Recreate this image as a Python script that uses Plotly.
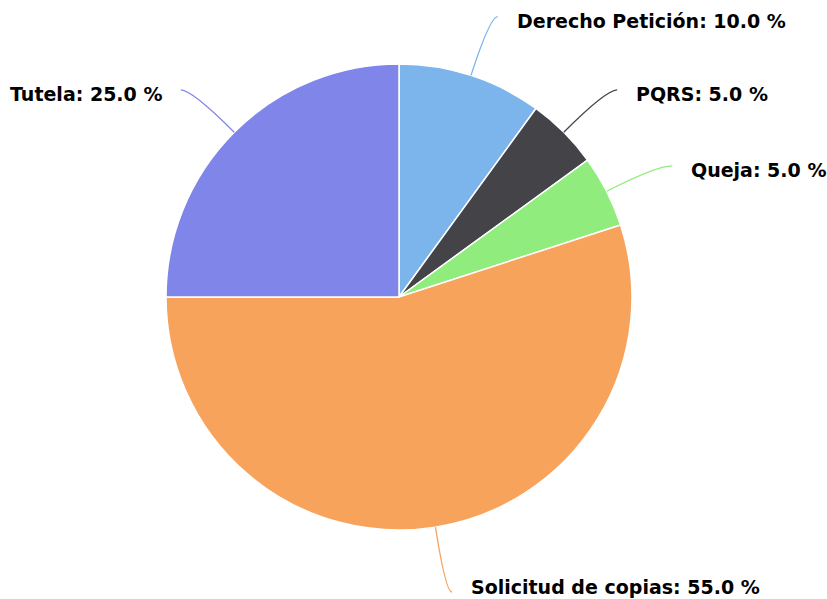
import math
import plotly.graph_objects as go

# ---- data ----
labels = ["Derecho Petición", "PQRS", "Queja", "Solicitud de copias", "Tutela"]
values = [10.0, 5.0, 5.0, 55.0, 25.0]
colors = ["#7cb5ec", "#434348", "#90ed7d", "#f7a35c", "#8085e9"]

W, H = 827, 599
cx, cy, R = 399, 297, 233
RL = 300          # label anchor radius
FONT = dict(family="DejaVu Sans", size=19.0, color="#000000")

fig = go.Figure(go.Pie(
    labels=labels, values=values, sort=False, direction="clockwise", rotation=0,
    marker=dict(colors=colors, line=dict(color="#ffffff", width=1.5)),
    textinfo="none", hoverinfo="label+percent", showlegend=False,
    domain=dict(x=[(cx - R) / W, (cx + R) / W], y=[1 - (cy + R) / H, 1 - (cy - R) / H]),
))

def px(x):
    return x / W

def py(y):
    return 1 - y / H

total = sum(values)
cum = 0.0
shapes, annos = [], []
for lab, v, col in zip(labels, values, colors):
    th = math.radians((cum + v / 2) / total * 360)
    cum += v
    s = 1 if math.sin(th) >= 0 else -1
    ux, uy = math.sin(th), -math.cos(th)
    p0 = (cx + R * ux, cy + R * uy)
    ey = min(cy + RL * uy + 5, H - 7)
    ex = cx + RL * ux + s * 6
    # control point: radial line from slice edge meets the label's horizontal line
    t = (ey - p0[1]) / uy if abs(uy) > 1e-6 else 0
    ctrl = (p0[0] + t * ux, ey)
    path = (f"M {px(p0[0])},{py(p0[1])} Q {px(ctrl[0])},{py(ctrl[1])} {px(ex)},{py(ey)}")
    shapes.append(dict(type="path", xref="paper", yref="paper", path=path,
                       line=dict(color=col, width=1.3)))
    ty = min(ey + 4, H - 12)
    tx = ex + (17 if s > 0 else -17)
    annos.append(dict(xref="paper", yref="paper", x=px(tx), y=py(ty),
                      xanchor="left" if s > 0 else "right", yanchor="middle",
                      text=f"<b>{lab}: {v / total * 100:.1f} %</b>", showarrow=False,
                      font=FONT))

fig.update_layout(width=W, height=H, margin=dict(l=0, r=0, t=0, b=0),
                  paper_bgcolor="#ffffff", plot_bgcolor="#ffffff",
                  shapes=shapes, annotations=annos)

fig.write_html("out.html", config={"displayModeBar": False},
               post_script="document.body.style.margin='0';document.body.style.overflow='hidden';")
